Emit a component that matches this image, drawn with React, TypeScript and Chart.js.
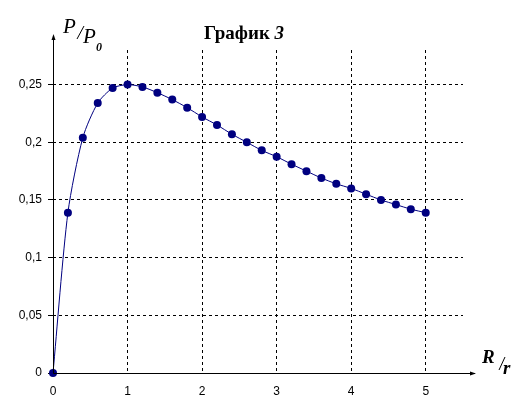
import React, { useEffect, useRef } from "react";
import { Chart, registerables } from "chart.js";

Chart.register(...registerables);

const xValues = [0, 0.2, 0.4, 0.6, 0.8, 1.0, 1.2, 1.4, 1.6, 1.8, 2.0, 2.2, 2.4, 2.6, 2.8, 3.0, 3.2, 3.4, 3.6, 3.8, 4.0, 4.2, 4.4, 4.6, 4.8, 5.0];
const yValues = [0, 0.139, 0.204, 0.234, 0.247, 0.25, 0.248, 0.243, 0.237, 0.230, 0.222, 0.215, 0.207, 0.200, 0.193, 0.1875, 0.181, 0.175, 0.169, 0.164, 0.16, 0.155, 0.150, 0.146, 0.142, 0.139];
const xTicks = [0, 1, 2, 3, 4, 5];
const yTicks = [0, 0.05, 0.1, 0.15, 0.2, 0.25];
const titleMain = "График ";
const titleNum = "3";

const NAVY = "#000080";

const decorPlugin = {
  id: "decor",
  afterDraw(chart: any) {
    const ctx = chart.ctx;
    const xs = chart.scales.x;
    const ys = chart.scales.y;
    const x0 = Math.round(xs.getPixelForValue(0)) + 0.5;
    const y0 = Math.round(ys.getPixelForValue(0)) + 0.5;
    ctx.save();
    ctx.strokeStyle = "#000";
    ctx.fillStyle = "#000";
    ctx.lineWidth = 1;
    ctx.setLineDash([]);
    // x axis
    ctx.beginPath();
    ctx.moveTo(x0, y0);
    ctx.lineTo(chart.chartArea.right + 12, y0);
    ctx.stroke();
    const ax = chart.chartArea.right + 13;
    ctx.beginPath();
    ctx.moveTo(ax, y0);
    ctx.lineTo(ax - 6, y0 - 2);
    ctx.lineTo(ax - 6, y0 + 2);
    ctx.closePath();
    ctx.fill();
    // y axis
    ctx.beginPath();
    ctx.moveTo(x0, y0);
    ctx.lineTo(x0, chart.chartArea.top - 14);
    ctx.stroke();
    const ay = chart.chartArea.top - 16;
    ctx.beginPath();
    ctx.moveTo(x0, ay);
    ctx.lineTo(x0 - 2, ay + 6);
    ctx.lineTo(x0 + 2, ay + 6);
    ctx.closePath();
    ctx.fill();

    // title
    ctx.textBaseline = "alphabetic";
    ctx.textAlign = "left";
    const f1 = "bold 19px 'Liberation Serif', 'Times New Roman', serif";
    const f2 = "bold italic 19px 'Liberation Serif', 'Times New Roman', serif";
    ctx.font = f1;
    const w1 = ctx.measureText(titleMain).width;
    ctx.font = f2;
    const w2 = ctx.measureText(titleNum).width;
    const tx = 244 - (w1 + w2) / 2;
    ctx.font = f1;
    ctx.fillText(titleMain, tx, 39);
    ctx.font = f2;
    ctx.fillText(titleNum, tx + w1, 39);

    // y label P/P0
    ctx.font = "italic 21px 'Liberation Serif', 'Times New Roman', serif";
    ctx.fillText("P", 63, 33);
    ctx.beginPath();
    ctx.moveTo(77, 39);
    ctx.lineTo(84, 26);
    ctx.stroke();
    ctx.fillText("P", 83, 43);
    ctx.font = "bold italic 12px 'Liberation Serif', 'Times New Roman', serif";
    ctx.fillText("0", 96, 51);

    // x label R/r
    ctx.font = "bold italic 19px 'Liberation Serif', 'Times New Roman', serif";
    ctx.fillText("R", 482, 363);
    ctx.beginPath();
    ctx.moveTo(499, 370);
    ctx.lineTo(505, 357);
    ctx.stroke();
    ctx.fillText("r", 503, 374);
    ctx.restore();
  },
};

export default function App() {
  const ref = useRef<HTMLCanvasElement | null>(null);
  useEffect(() => {
    if (!ref.current) return;
    const data = xValues.map((x, i) => ({ x, y: yValues[i] }));
    const chart = new Chart(ref.current, {
      type: "line",
      data: {
        datasets: [
          {
            data,
            borderColor: NAVY,
            backgroundColor: NAVY,
            borderWidth: 1,
            pointRadius: 4,
            pointBorderWidth: 0,
            pointBackgroundColor: NAVY,
            tension: 0.25,
            clip: false as any,
          },
        ],
      },
      options: {
        animation: false,
        responsive: false,
        maintainAspectRatio: false,
        layout: { padding: { top: 50, right: 57, left: 0, bottom: 0 } },
        plugins: { legend: { display: false }, tooltip: { enabled: false }, title: { display: false } },
        scales: {
          x: {
            type: "linear",
            min: 0,
            max: 5.5,
            afterBuildTicks: (s: any) => {
              s.ticks = xTicks.map((v) => ({ value: v }));
            },
            afterFit: (s: any) => {
              s.height = 38;
            },
            border: { display: false, dash: [3, 3] },
            grid: {
              color: (c: any) => (c.tick && c.tick.value === 0 ? "rgba(0,0,0,0)" : "#000"),
              lineWidth: 1,
              drawTicks: false,
            },
            ticks: {
              padding: 11,
              color: "#000",
              font: { family: "'Liberation Sans', Arial, sans-serif", size: 12 },
              callback: (v: any) => String(v),
              maxRotation: 0,
            },
          },
          y: {
            type: "linear",
            min: 0,
            max: 0.28,
            afterBuildTicks: (s: any) => {
              s.ticks = yTicks.map((v) => ({ value: v }));
            },
            afterFit: (s: any) => {
              s.width = 53;
            },
            border: { display: false, dash: [3, 3] },
            grid: {
              color: (c: any) => (c.tick && c.tick.value === 0 ? "rgba(0,0,0,0)" : "#000"),
              tickColor: "#000",
              lineWidth: 1,
              drawTicks: true,
              tickLength: 5,
            },
            ticks: {
              padding: 6,
              color: "#000",
              font: { family: "'Liberation Sans', Arial, sans-serif", size: 12 },
              callback: (v: any) => String(Math.round(v * 100) / 100).replace(".", ","),
            },
          },
        },
      },
      plugins: [decorPlugin],
    });
    return () => chart.destroy();
  }, []);
  return (
    <div style={{ position: "absolute", left: 0, top: 0, width: 520, height: 411, background: "#fff" }}>
      <canvas ref={ref} width={520} height={411} style={{ width: 520, height: 411 }} />
    </div>
  );
}
